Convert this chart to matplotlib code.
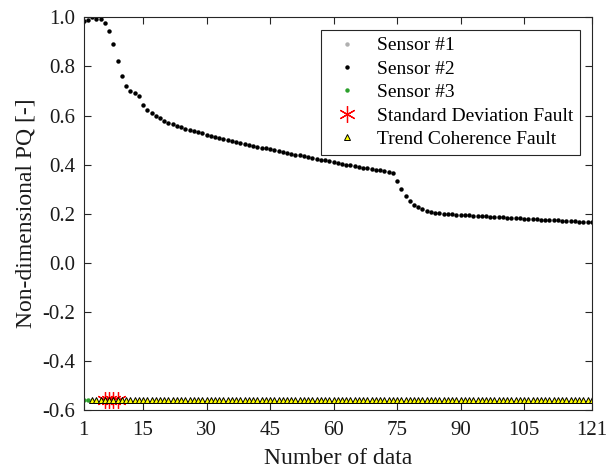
import matplotlib.pyplot as plt
import numpy as np

plt.rcParams['font.family'] = ['Liberation Serif', 'DejaVu Serif']

# sample index
n_data = np.arange(1, 122)

# sensor #2 non-dimensional PQ, one value per sample
sensor2 = [
    0.986, 0.989, 1.000, 0.994, 0.993, 0.979, 0.944, 0.892, 0.822, 0.762,
    0.720, 0.701, 0.693, 0.678, 0.642, 0.622, 0.609, 0.599, 0.589, 0.578,
    0.571, 0.564, 0.558, 0.552, 0.547, 0.541, 0.536, 0.531, 0.527, 0.522,
    0.518, 0.513, 0.509, 0.505, 0.501, 0.497, 0.493, 0.489, 0.485, 0.481,
    0.477, 0.473, 0.469, 0.466, 0.462, 0.458, 0.455, 0.451, 0.448, 0.444,
    0.441, 0.437, 0.434, 0.430, 0.427, 0.424, 0.420, 0.417, 0.414, 0.410,
    0.407, 0.404, 0.400, 0.397, 0.394, 0.391, 0.388, 0.385, 0.382, 0.379,
    0.376, 0.373, 0.369, 0.364, 0.334, 0.300, 0.271, 0.252, 0.236, 0.225,
    0.217, 0.211, 0.207, 0.204, 0.202, 0.200, 0.198, 0.197, 0.196, 0.195,
    0.194, 0.193, 0.192, 0.191, 0.190, 0.189, 0.188, 0.187, 0.186, 0.185,
    0.184, 0.183, 0.182, 0.181, 0.180, 0.179, 0.178, 0.177, 0.176, 0.175,
    0.174, 0.173, 0.172, 0.171, 0.170, 0.169, 0.168, 0.167, 0.166, 0.165,
    0.164,
]

# sensor #1 has no samples shown
sensor1_x = []
sensor1_y = []

# sensor #3 and the fault flags all sit on the same baseline
baseline = -0.56
sensor3_x = [1, 2]
std_fault_x = [6, 7, 8, 9]
trend_fault_x = list(range(3, 122))

x_ticks = [1, 15, 30, 45, 60, 75, 90, 105, 121]
y_ticks = [-0.6, -0.4, -0.2, 0.0, 0.2, 0.4, 0.6, 0.8, 1.0]

fig = plt.figure(figsize=(6.07, 4.70), dpi=100)
ax = fig.add_axes([0.138, 0.128, 0.837, 0.835])

dot = dict(linestyle='none', marker='o', markersize=3.2, markeredgewidth=0)
ax.plot(sensor1_x, sensor1_y, color='#b0b0b0', label='Sensor #1', **dot)
ax.plot(n_data, sensor2, color='black', label='Sensor #2', **dot)
ax.plot(sensor3_x, [baseline] * len(sensor3_x), color='#2ca02c',
        label='Sensor #3', **dot)
ax.plot(std_fault_x, [baseline] * len(std_fault_x), linestyle='none',
        marker=(6, 2, 0), color='red', markersize=12, markeredgewidth=0.9,
        label='Standard Deviation Fault')
ax.plot(trend_fault_x, [baseline] * len(trend_fault_x), linestyle='none',
        marker='^', markerfacecolor='yellow', markeredgecolor='black',
        markersize=5, markeredgewidth=0.7, label='Trend Coherence Fault')

ax.set_xlim(1, 121)
ax.set_ylim(-0.6, 1.0)
ax.set_xticks(x_ticks)
ax.set_yticks(y_ticks)
ax.set_yticklabels([f'{v:.1f}' for v in y_ticks])
ax.tick_params(direction='in', top=True, right=True, labelsize=15, length=5,
               width=0.8, colors='#262626', labelcolor='#1a1a1a')
ax.tick_params(axis='x', pad=8)
ax.tick_params(axis='y', pad=6)
for s in ax.spines.values():
    s.set_color('#262626')
    s.set_linewidth(0.8)

ax.set_xlabel('Number of data', fontsize=17, color='#1a1a1a', labelpad=6)
ax.set_ylabel('Non-dimensional PQ [-]', fontsize=17, color='#1a1a1a', labelpad=4)

leg = ax.legend(loc='upper right', bbox_to_anchor=(0.977, 0.968),
                borderaxespad=0, fontsize=14, fancybox=False,
                edgecolor='#262626', framealpha=1, handletextpad=0.55,
                borderpad=0.35, labelspacing=0.3, handlelength=2.0)
leg.get_frame().set_linewidth(0.8)

fig.savefig('out.png', dpi=100)
